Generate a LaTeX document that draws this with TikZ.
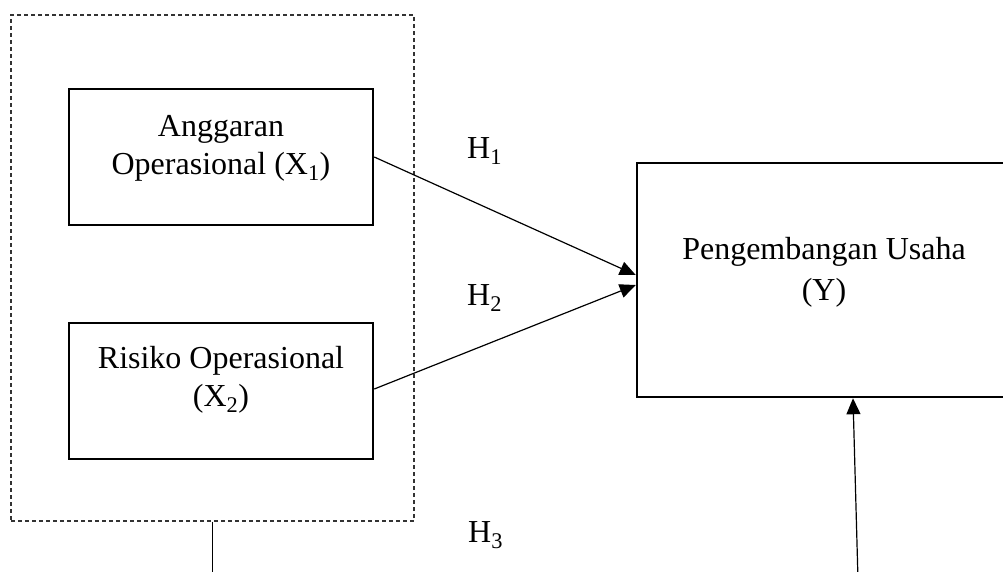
\documentclass[tikz,border=0pt]{standalone}
\usepackage{fontspec}
\setmainfont{Liberation Serif}
\usetikzlibrary{arrows.meta}
\tikzset{
  varbox/.style={draw=black, line width=2.5pt, rectangle, inner sep=0pt},
  vartext/.style={align=center, inner sep=0pt, font=\fontsize{32}{38}\selectfont},
  ytext/.style={align=center, inner sep=0pt, font=\fontsize{32}{41}\selectfont},
  grpbox/.style={draw=black!80, line width=1.1pt, dash pattern=on 4pt off 3pt, rectangle, inner sep=0pt},
  hlabel/.style={anchor=base west, inner sep=0pt, font=\fontsize{32}{38}\selectfont},
  conn/.style={line width=1.2pt, -{Triangle[length=16pt,width=14pt]}},
  plain/.style={line width=1.2pt}
}
\begin{document}
\begin{tikzpicture}[x=1pt,y=-1pt]
\useasboundingbox (0,0) rectangle (1003,571);
% group
\node[grpbox, minimum width=403pt, minimum height=506pt] (grp) at (212.5,268) {};
% boxes
\node[varbox, minimum width=304pt, minimum height=136pt] (x1) at (221,157) {};
\node[vartext] (x1t) at ([yshift=9pt]x1.center) {Anggaran\\Operasional (X\textsubscript{1})};
\node[varbox, minimum width=304pt, minimum height=136pt] (x2) at (221,391) {};
\node[vartext] (x2t) at ([yshift=11pt]x2.center) {Risiko Operasional\\(X\textsubscript{2})};
\node[varbox, minimum width=374pt, minimum height=234pt] (y) at (824,280) {};
\node[ytext] (yt) at ([yshift=8pt]y.center) {Pengembangan Usaha\\(Y)};
% labels
\node[hlabel] (h1) at (467,158) {H\textsubscript{1}};
\node[hlabel] (h2) at (467,305) {H\textsubscript{2}};
\node[hlabel] (h3) at (468,542) {H\textsubscript{3}};
% connectors
\draw[conn] (x1.east) -- ([yshift=5pt]y.west);
\draw[conn] ([yshift=2pt]x2.east) -- ([yshift=-5pt]y.west);
\coordinate (bl) at (212.5,580);
\coordinate (br) at (858,580);
\draw[plain] (grp.south) -- (bl);
\draw[conn] (br) -- ([xshift=29pt]y.south);
\end{tikzpicture}
\end{document}
